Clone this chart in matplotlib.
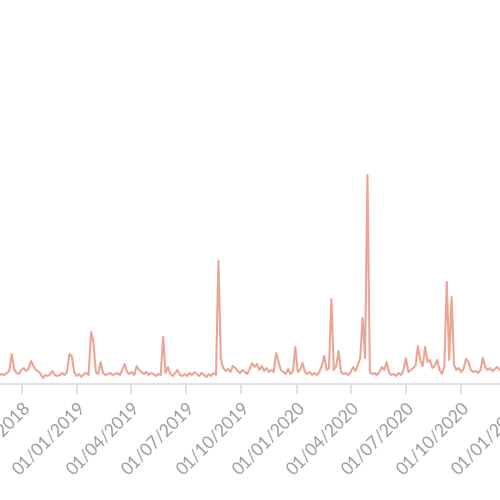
import matplotlib
matplotlib.use('Agg')
import matplotlib.pyplot as plt
import matplotlib.dates as mdates
import pandas as pd

start_date = '2018-08-17'
step = '4D'
values = [
    10, 12,
    9, 10, 9, 11, 13, 30, 15, 11, 10, 14,
    16, 13, 15, 23, 18, 14, 13, 10, 6, 9,
    8, 10, 13, 9, 8, 9, 11, 9, 12, 30,
    28, 12, 8, 10, 7, 10, 11, 9, 52, 42,
    12, 10, 22, 11, 9, 10, 11, 9, 10, 11,
    9, 14, 20, 12, 10, 12, 9, 18, 14, 12,
    10, 12, 9, 11, 10, 8, 10, 9, 47, 11,
    17, 10, 8, 11, 14, 9, 8, 10, 8, 11,
    9, 12, 10, 8, 11, 9, 7, 10, 8, 11,
    9, 123, 25, 16, 13, 15, 12, 18, 16, 13,
    11, 14, 12, 10, 15, 21, 17, 20, 14, 18,
    13, 16, 12, 14, 12, 31, 22, 14, 12, 10,
    15, 10, 13, 37, 12, 14, 21, 12, 10, 12,
    9, 11, 9, 12, 18, 28, 14, 16, 85, 14,
    18, 33, 12, 10, 11, 9, 12, 17, 13, 19,
    26, 66, 26, 209, 12, 10, 11, 9, 12, 17,
    14, 22, 11, 9, 10, 8, 11, 9, 14, 26,
    12, 14, 16, 18, 38, 24, 18, 37, 22, 24,
    16, 18, 24, 14, 10, 18, 102, 24, 87, 19,
    14, 16, 12, 15, 25, 22, 14, 12, 13, 11,
    14, 26, 17, 14, 16, 13, 15, 17, 14, 15,
    14, 12,
]
tick_dates = ['2018-10-01', '2019-01-01', '2019-04-01', '2019-07-01', '2019-10-01',
              '2020-01-01', '2020-04-01', '2020-07-01', '2020-10-01', '2021-01-01']

fig = plt.figure(figsize=(5, 5), dpi=100)
ax = fig.add_axes([-0.12, 0.232, 1.24, 0.768])
dates = pd.date_range(start_date, periods=len(values), freq=step)
ax.plot(dates, values, color='#EBA594', lw=1.5, solid_joinstyle='round')
ax.set_xlim(pd.Timestamp('2018-05-17 17:00'), pd.Timestamp('2021-03-14 10:00'))
ax.set_ylim(0, 384)
for s in ['top', 'right', 'left']:
    ax.spines[s].set_visible(False)
ax.spines['bottom'].set_color('#e2e2e2')
ax.spines['bottom'].set_linewidth(1.5)
ax.set_xticks(pd.to_datetime(tick_dates))
ax.xaxis.set_major_formatter(mdates.DateFormatter('%d/%m/%Y'))
ax.tick_params(axis='x', length=7, width=1.5, color='#e2e2e2',
               labelcolor='#999999', labelsize=12.3, pad=4)
ax.set_yticks([])
plt.setp(ax.get_xticklabels(), rotation=45, ha='right', rotation_mode='anchor',
         family='Lato')
fig.savefig('out.png', dpi=100)
